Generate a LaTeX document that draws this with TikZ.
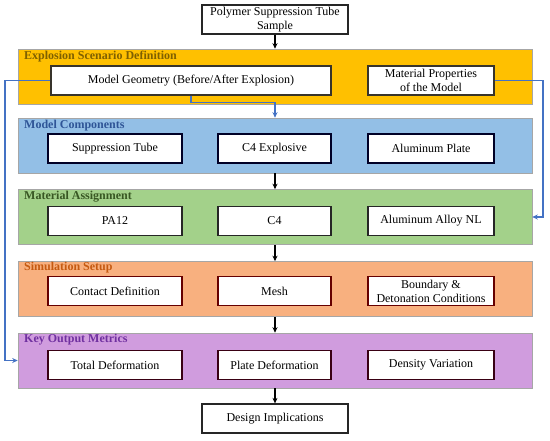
\documentclass[tikz,border=0pt]{standalone}
\usepackage{fontspec}
\setmainfont{Liberation Serif}
\usetikzlibrary{arrows.meta}
\definecolor{bandA}{HTML}{FFC000}
\definecolor{bandB}{HTML}{93BFE6}
\definecolor{bandC}{HTML}{A3D18A}
\definecolor{bandD}{HTML}{F8B07F}
\definecolor{bandE}{HTML}{D09CDE}
\definecolor{titA}{HTML}{7F6000}
\definecolor{titB}{HTML}{2F5597}
\definecolor{titC}{HTML}{385723}
\definecolor{titD}{HTML}{C55A11}
\definecolor{titE}{HTML}{7030A0}
\definecolor{linkblue}{HTML}{4472C4}
\tikzset{
  band/.style={draw=black!35, line width=0.6pt, minimum width=514pt, minimum height=55pt, inner sep=0pt},
  boxn/.style={draw=black!85, fill=white, line width=1.3pt, minimum height=29pt, inner sep=0.5pt, align=center, font=\fontsize{12}{14}\selectfont},
  bandtitle/.style={anchor=west, font=\bfseries\fontsize{12}{13}\selectfont, inner sep=0pt},
  flow/.style={black, line width=1.2pt, -{Stealth[length=5.5pt,width=5pt]}},
  link/.style={linkblue, line width=1.2pt, -{Stealth[length=5.5pt,width=5pt]}},
}
\begin{document}
\begin{tikzpicture}[x=1pt,y=-1pt]
\useasboundingbox (0,0) rectangle (550,440);
% bands
\node[band, fill=bandA] (b1) at (275,76.5) {};
\node[band, fill=bandB] (b2) at (275,145.5) {};
\node[band, fill=bandC] (b3) at (275,217) {};
\node[band, fill=bandD] (b4) at (275,289) {};
\node[band, fill=bandE] (b5) at (275,360.5) {};
% titles
\node[bandtitle, text=titA] (t1) at (24,57) {Explosion Scenario Definition};
\node[bandtitle, text=titB] (t2) at (24,126) {Model Components};
\node[bandtitle, text=titC] (t3) at (24,197) {Material Assignment};
\node[bandtitle, text=titD] (t4) at (24,268) {Simulation Setup};
\node[bandtitle, text=titE] (t5) at (24,340) {Key Output Metrics};
% top and bottom
\node[boxn, minimum width=146pt] (top) at (275,19.5) {Polymer Suppression Tube\\Sample};
\node[boxn, minimum width=146pt] (bot) at (275,418.5) {Design Implications};
% row 1
\node[boxn, minimum width=280pt, draw=black!80!olive] (geo) at (191,80.5) {Model Geometry (Before/After Explosion)};
\node[boxn, minimum width=126pt, draw=black!80!olive] (mat) at (431,80.5) {Material Properties\\of the Model};
% row 2
\node[boxn, minimum width=134pt, draw=black!85!blue] (tube) at (115,148.5) {Suppression Tube};
\node[boxn, minimum width=113pt, draw=black!85!blue] (c4e) at (274.5,148.5) {C4 Explosive};
\node[boxn, minimum width=126pt, draw=black!85!blue] (alp) at (431,148.5) {Aluminum Plate};
% row 3
\node[boxn, minimum width=134pt] (pa) at (115,221) {PA12};
\node[boxn, minimum width=113pt] (c4) at (274.5,221) {C4};
\node[boxn, minimum width=126pt] (aln) at (431,221) {Aluminum Alloy NL};
% row 4
\node[boxn, minimum width=134pt, draw=black!60!red] (cd) at (115,291) {Contact Definition};
\node[boxn, minimum width=113pt, draw=black!60!red] (mesh) at (274.5,291) {Mesh};
\node[boxn, minimum width=126pt, draw=black!60!red] (bdc) at (431,291) {Boundary \&\\Detonation Conditions};
% row 5
\node[boxn, minimum width=134pt, draw=black!70!purple] (td) at (115,365) {Total Deformation};
\node[boxn, minimum width=113pt, draw=black!70!purple] (pd) at (274.5,365) {Plate Deformation};
\node[boxn, minimum width=126pt, draw=black!70!purple] (dv) at (431,365) {Density Variation};
% flow arrows
\draw[flow] (top.south) -- (b1.north);
\draw[flow] (b2.south) -- (b3.north);
\draw[flow] (b3.south) -- (b4.north);
\draw[flow] (b4.south) -- (b5.north);
\draw[flow] (b5.south) -- (bot.north);
% blue links
\draw[link] (geo.south) -- ++(0,7) -| (b2.north);
\draw[link] (geo.west) -- (5,80.5) |- (b5.west);
\draw[link] (mat.east) -- (543,80.5) |- (b3.east);
\end{tikzpicture}
\end{document}
